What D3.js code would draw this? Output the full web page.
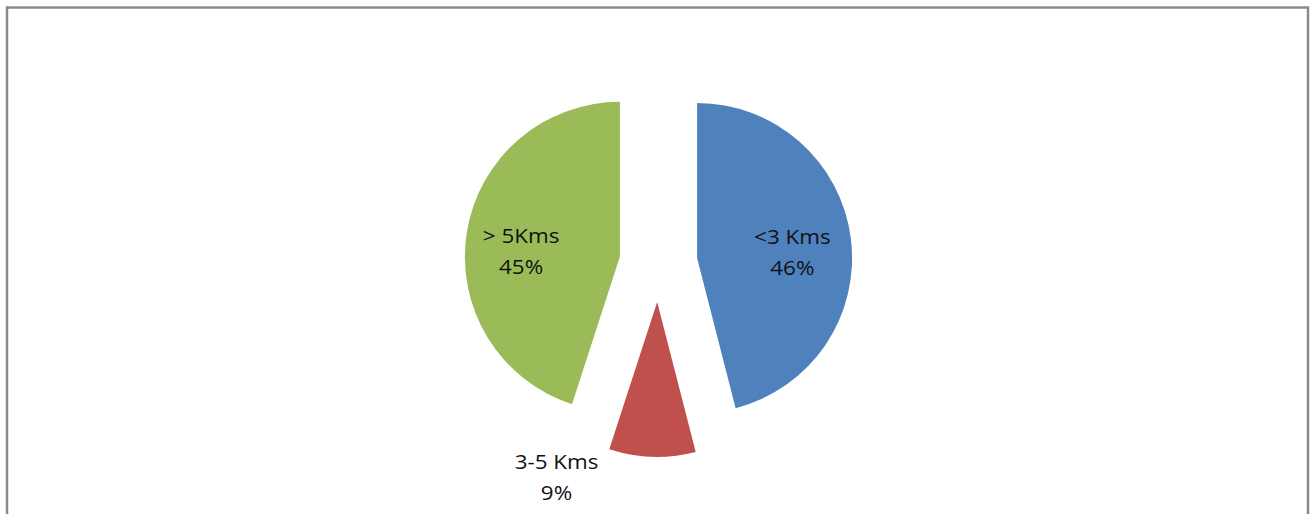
<!DOCTYPE html>
<html>
<head>
<meta charset="utf-8">
<script src="https://cdn.jsdelivr.net/npm/d3@7"></script>
<style>
  html, body { margin: 0; padding: 0; background: #fff; }
  svg { display: block; }
</style>
</head>
<body>
<svg id="chart" width="1311" height="514"></svg>
<script>
// ---- data ----
const categories = ["<3 Kms", "3-5 Kms", "> 5Kms"];
const values = [46, 9, 45];
const percentLabels = ["46%", "9%", "45%"];
const colors = ["#4F81BD", "#C0504D", "#9BBB59"];

// ---- layout ----
const cx = 658.4, cy = 262.9;
const radius = 155;
const explode = 39;
const fontSize = 20;
const lineGap = 30.5;

const svg = d3.select("#chart");

// chart frame
svg.append("rect")
  .attr("x", 7).attr("y", 7.5)
  .attr("width", 1301).attr("height", 530)
  .attr("fill", "none")
  .attr("stroke", "#8a8a8a")
  .attr("stroke-width", 2.5);

const pie = d3.pie().sort(null).value(d => d)(values);
const arc = d3.arc().innerRadius(0).outerRadius(radius);

const g = svg.append("g").attr("transform", `translate(${cx},${cy})`);

function dir(d) {
  const a = (d.startAngle + d.endAngle) / 2;
  return [Math.sin(a), -Math.cos(a)];
}

const slices = g.selectAll("g.slice").data(pie).enter().append("g")
  .attr("class", "slice")
  .attr("transform", d => {
    const [dx, dy] = dir(d);
    return `translate(${dx * explode},${dy * explode})`;
  });

slices.append("path")
  .attr("d", arc)
  .attr("fill", (d, i) => colors[i]);

// labels: inside for large slices, outside for the small one
const labelSpec = [
  { r: 96, ox: 0, oy: 6 },      // <3 Kms
  { r: 180, ox: -95, oy: -5 },  // 3-5 Kms (outside)
  { r: 100, ox: 0, oy: 10 }     // > 5Kms
];

const labels = slices.append("g")
  .attr("transform", (d, i) => {
    const s = labelSpec[i];
    const [dx, dy] = dir(d);
    return `translate(${dx * s.r + s.ox},${dy * s.r + s.oy}) scale(1.12,1)`;
  });

labels.append("text")
  .attr("text-anchor", "middle")
  .attr("y", -lineGap / 2 + 7.5)
  .attr("font-family", "'Open Sans', sans-serif")
  .attr("font-size", fontSize)
  .attr("fill", "#111")
  .text((d, i) => categories[i]);

labels.append("text")
  .attr("text-anchor", "middle")
  .attr("y", lineGap / 2 + 7.5)
  .attr("font-family", "'Open Sans', sans-serif")
  .attr("font-size", fontSize)
  .attr("fill", "#111")
  .text((d, i) => percentLabels[i]);
</script>
</body>
</html>
